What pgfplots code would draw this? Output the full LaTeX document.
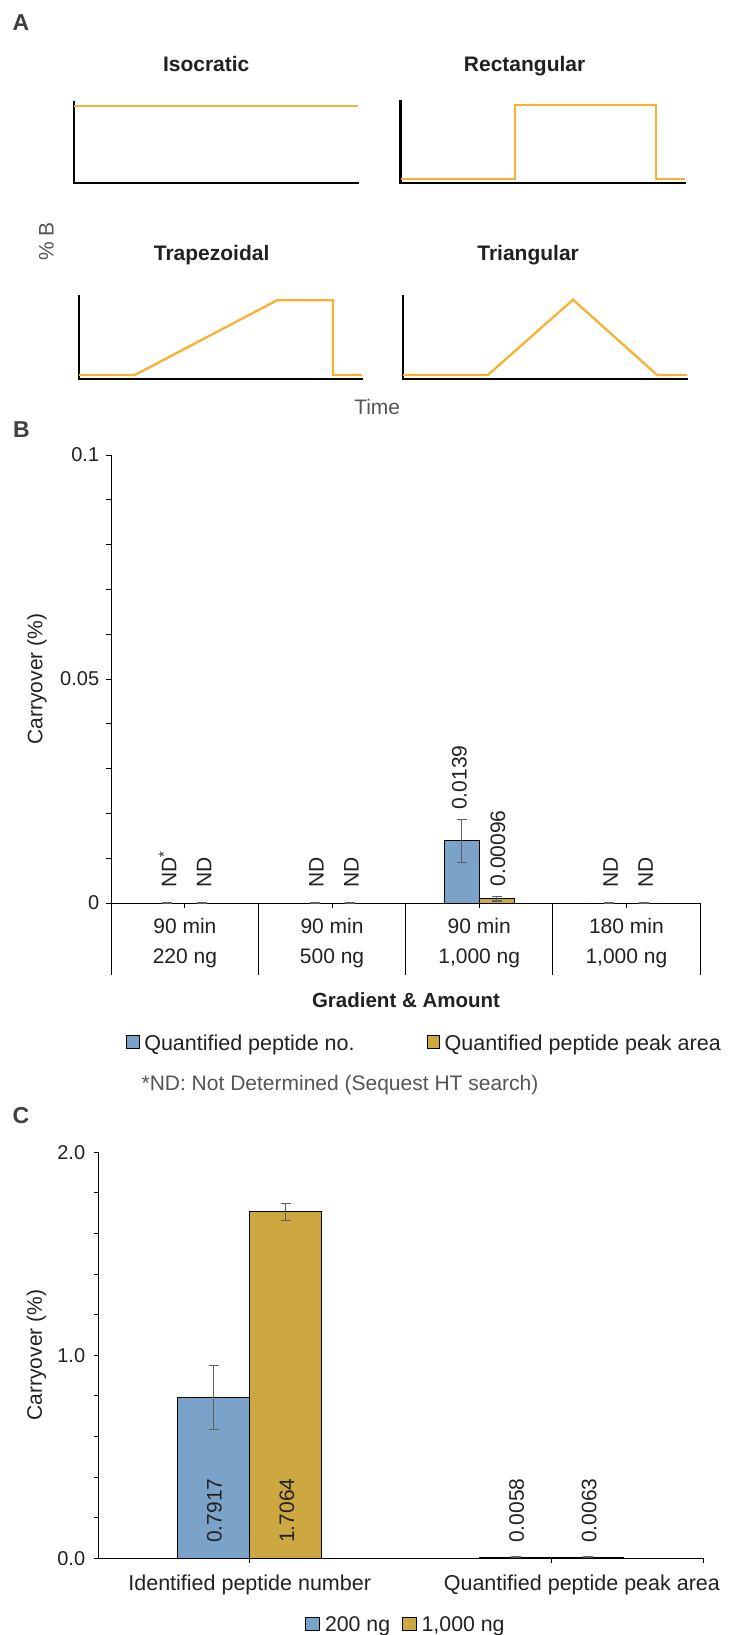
\documentclass[border=0pt]{standalone}
\usepackage{pgfplots}
\pgfplotsset{compat=1.18}
\usepackage{fontspec}
\setmainfont{Liberation Sans}
\definecolor{orangeA}{RGB}{247,178,52}
\definecolor{barblue}{RGB}{123,163,201}
\definecolor{bargold}{RGB}{205,168,65}
\definecolor{errgray}{RGB}{95,95,95}
\definecolor{txt}{RGB}{33,33,33}
\definecolor{lettergray}{RGB}{64,64,64}
\definecolor{notegray}{RGB}{85,85,85}
\newcommand{\fA}{\fontsize{21}{25}\selectfont}
\newcommand{\fT}{\fontsize{20}{24}\selectfont}
\pgfplotsset{
  gradax/.style={scale only axis, anchor=south west, axis lines=left,
    axis line style={-, line width=2.6pt, black, line cap=rect}, xtick=\empty, ytick=\empty, clip=false},
  orangeline/.style={orangeA, line width=2.3pt, line join=miter, no marks},
  barax/.style={scale only axis, anchor=south west, axis x line=bottom, axis y line=left,
    axis line style={-, line width=1pt, black}, tick align=outside, major tick length=5pt,
    tick style={black, line width=1pt}, clip=false,
    tick label style={font=\fT, text=txt},
    ybar=0pt},
  errs/.style={/pgfplots/error bars/y dir=both, /pgfplots/error bars/y explicit,
    /pgfplots/error bars/error bar style={errgray, line width=1.3pt},
    /pgfplots/error bars/error mark options={rotate=90, errgray, line width=1.3pt, mark size=5pt}},
}
\tikzset{vlab/.style={rotate=90, anchor=base west, inner sep=0pt, font=\fA, text=txt}}
\begin{document}
\begin{tikzpicture}
\path[use as bounding box, fill=white] (0pt,0pt) rectangle (733pt,-1635pt);

% ---------------- Panel A ----------------
\node[font=\bfseries\fontsize{23}{27}\selectfont, text=lettergray] at (21pt,-22.5pt) {A};
\node[font=\bfseries\fA, anchor=base, text=txt] at (206.2pt,-71.7pt) {Isocratic};
\node[font=\bfseries\fA, anchor=base, text=txt] at (524.6pt,-71.7pt) {Rectangular};
\node[font=\bfseries\fA, anchor=base, text=txt] at (211.6pt,-260.5pt) {Trapezoidal};
\node[font=\bfseries\fA, anchor=base, text=txt] at (528.1pt,-260.5pt) {Triangular};
\node[font=\fA, rotate=90, text=notegray] at (46.4pt,-241.3pt) {\% B};
\node[font=\fA, anchor=base, text=notegray] at (377.2pt,-414.3pt) {Time};

\begin{axis}[gradax, at={(74pt,-183pt)}, width=284pt, height=81pt, xmin=0, xmax=284, ymin=0, ymax=81]
\addplot[orangeline] coordinates {(0,77) (284,77)};
\end{axis}
\begin{axis}[gradax, at={(400.5pt,-183pt)}, width=284pt, height=82pt, xmin=0, xmax=284, ymin=0, ymax=82]
\addplot[orangeline] coordinates {(0,3.8) (114.5,3.8) (114.5,77.7) (255.5,77.7) (255.5,3.8) (284.5,3.8)};
\end{axis}
\begin{axis}[gradax, at={(79pt,-379pt)}, width=282.5pt, height=83pt, xmin=0, xmax=282.5, ymin=0, ymax=83]
\addplot[orangeline] coordinates {(0,4.1) (56,4.1) (198,78.7) (254,78.7) (254,4.1) (283,4.1)};
\end{axis}
\begin{axis}[gradax, at={(403pt,-379pt)}, width=284pt, height=83pt, xmin=0, xmax=284, ymin=0, ymax=83]
\addplot[orangeline] coordinates {(0,4.1) (85,4.1) (170,79.3) (254,4.1) (284,4.1)};
\end{axis}

% ---------------- Panel B ----------------
\node[font=\bfseries\fontsize{23}{27}\selectfont, text=lettergray] at (21.5pt,-429.5pt) {B};
\node[font=\fA, rotate=90, text=txt] at (37pt,-679pt) {Carryover (\%)};
\node[font=\bfseries\fontsize{20.5}{24}\selectfont, text=txt] at (406pt,-999.7pt) {Gradient \& Amount};
\node[font=\fA, anchor=base, text=notegray] at (340pt,-1090pt) {*ND: Not Determined (Sequest HT search)};

\begin{axis}[barax, at={(111.3pt,-903pt)}, width=588.7pt, height=448pt,
  xmin=-0.5, xmax=3.5, ymin=0, ymax=0.1, bar width=35pt,
  ytick={0,0.01,0.02,0.03,0.04,0.05,0.06,0.07,0.08,0.09,0.1},
  yticklabels={0,,,,,0.05,,,,,0.1},
  yticklabel style={xshift=-3.6pt},
  xtick={0,1,2,3},
  xticklabels={{90 min\\220 ng},{90 min\\500 ng},{90 min\\1,000 ng},{180 min\\1,000 ng}},
  xticklabel style={align=center, font=\fontsize{21}{29.3}\selectfont, yshift=-7pt},
  extra x ticks={-0.5,0.5,1.5,2.5,3.5}, extra x tick labels={},
  extra x tick style={major tick length=72pt},
  legend columns=2, legend cell align=left,
  legend image code/.code={\draw[#1, line width=1pt] (0pt,-5.7pt) rectangle (12.5pt,7.6pt); \path (17pt,0pt);},
  legend style={at={(0.02547,-0.3125)}, anchor=west, draw=none, fill=none, inner sep=0pt, outer sep=0pt,
    font=\fontsize{21.5}{25}\selectfont, text=txt, column sep=0pt, nodes={inner sep=0pt},
    /tikz/every even column/.append style={column sep=72pt}},
]
\addplot[fill=barblue, draw=black, line width=1pt, errs] coordinates {(0,0) +- (0,0) (1,0) +- (0,0) (2,0.0139) +- (0,0.0048) (3,0) +- (0,0)};
\addlegendentry{Quantified peptide no.}
\addplot[fill=bargold, draw=black, line width=1pt, errs] coordinates {(0,0) +- (0,0) (1,0) +- (0,0) (2,0.00096) +- (0,0.0005) (3,0) +- (0,0)};
\addlegendentry{Quantified peptide peak area}
\node[xshift=-8.5pt, yshift=15pt, vlab] at (axis cs:0,0) {ND\textsuperscript{*}};
\node[xshift=26.5pt, yshift=15pt, vlab] at (axis cs:0,0) {ND};
\node[xshift=-8.5pt, yshift=15pt, vlab] at (axis cs:1,0) {ND};
\node[xshift=26.5pt, yshift=15pt, vlab] at (axis cs:1,0) {ND};
\node[xshift=-12.6pt, yshift=93pt, vlab] at (axis cs:2,0) {0.0139};
\node[xshift=26pt, yshift=16.3pt, vlab] at (axis cs:2,0) {0.00096};
\node[xshift=-8.5pt, yshift=15pt, vlab] at (axis cs:3,0) {ND};
\node[xshift=26.5pt, yshift=15pt, vlab] at (axis cs:3,0) {ND};
\end{axis}

% ---------------- Panel C ----------------
\node[font=\bfseries\fontsize{23}{27}\selectfont, text=lettergray] at (21pt,-1115.5pt) {C};
\node[font=\fA, rotate=90, text=txt] at (36.4pt,-1355pt) {Carryover (\%)};

\begin{axis}[barax, at={(98.6pt,-1558.3pt)}, width=604.4pt, height=406pt,
  xmin=-0.5, xmax=1.5, ymin=0, ymax=2, bar width=72pt,
  ytick={0,0.2,0.4,0.6,0.8,1,1.2,1.4,1.6,1.8,2},
  yticklabels={0.0,,,,,1.0,,,,,2.0},
  yticklabel style={xshift=-4.9pt},
  xtick={0,1}, xticklabels={,},
  extra x ticks={1.5}, extra x tick labels={},
  legend columns=2, legend cell align=left,
  legend image code/.code={\draw[#1, line width=1pt] (0pt,-5.7pt) rectangle (14pt,7.6pt); \path (19pt,0pt);},
  legend style={at={(0.3415,-0.1643)}, anchor=west, draw=none, fill=none, inner sep=0pt, outer sep=0pt,
    font=\fontsize{21.3}{25}\selectfont, text=txt, column sep=0pt, nodes={inner sep=0pt},
    /tikz/every even column/.append style={column sep=11.5pt}},
]
\addplot[fill=barblue, draw=black, line width=1pt, errs] coordinates {(0,0.7917) +- (0,0.158) (1,0.0058) +- (0,0.003)};
\addlegendentry{200 ng}
\addplot[fill=bargold, draw=black, line width=1pt, errs] coordinates {(0,1.7064) +- (0,0.043) (1,0.0063) +- (0,0.003)};
\addlegendentry{1,000 ng}
\node[xshift=-28pt, yshift=15.3pt, vlab] at (axis cs:0,0) {0.7917};
\node[xshift=44.5pt, yshift=15.3pt, vlab] at (axis cs:0,0) {1.7064};
\node[xshift=-28pt, yshift=15.3pt, vlab] at (axis cs:1,0) {0.0058};
\node[xshift=44.5pt, yshift=15.3pt, vlab] at (axis cs:1,0) {0.0063};
\node[font=\fontsize{21.5}{25}\selectfont, text=txt, yshift=-26.4pt] at (axis cs:0,0) {Identified peptide number};
\node[font=\fontsize{21.5}{25}\selectfont, text=txt, yshift=-26.4pt, xshift=30pt] at (axis cs:1,0) {Quantified peptide peak area};
\end{axis}
\end{tikzpicture}
\end{document}
